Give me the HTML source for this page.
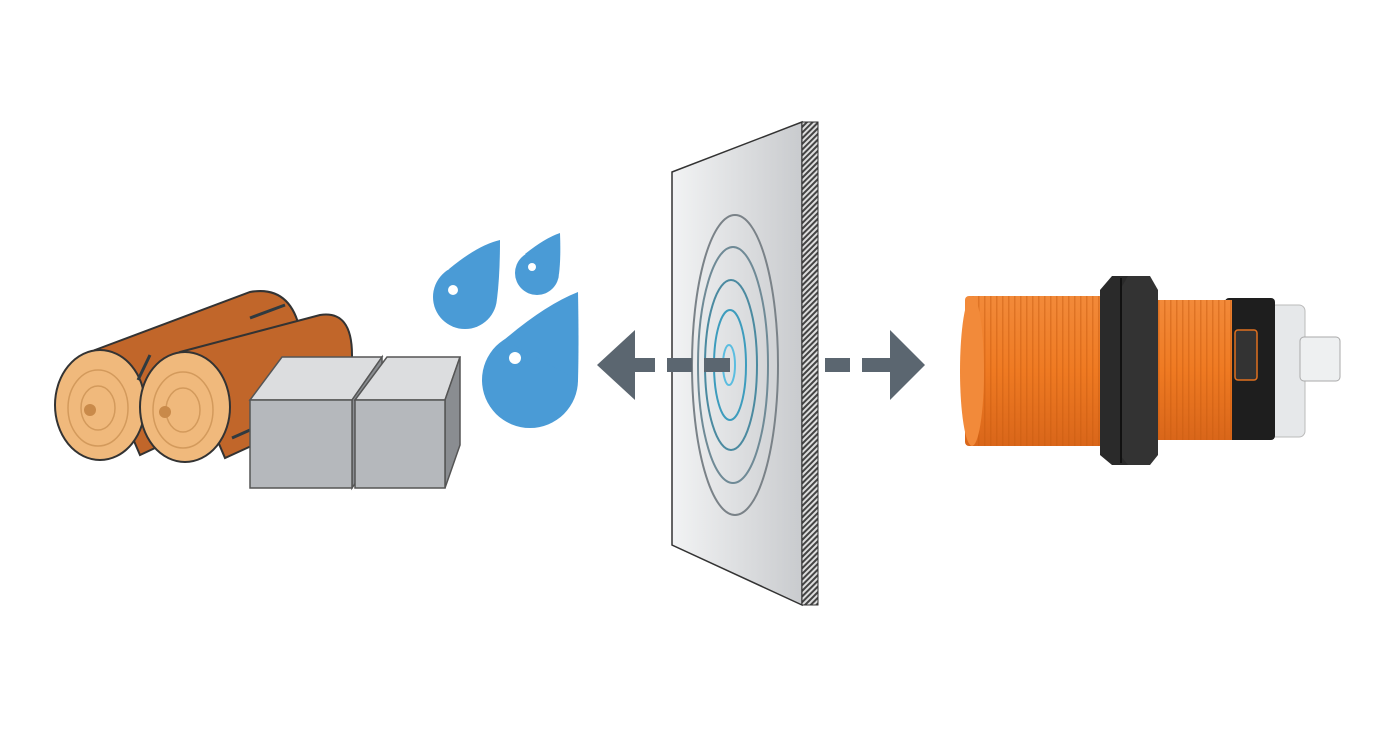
<!DOCTYPE html>
<html><head><meta charset="utf-8"><style>html,body{margin:0;padding:0;background:#fff}</style></head>
<body>
<svg width="1400" height="735" viewBox="0 0 1400 735" xmlns="http://www.w3.org/2000/svg">
<defs>
<linearGradient id="pg" x1="0" x2="1"><stop offset="0" stop-color="#f2f3f4"/><stop offset="1" stop-color="#c9cbce"/></linearGradient>
<pattern id="hatch" width="4" height="4" patternUnits="userSpaceOnUse" patternTransform="rotate(45)"><rect width="4" height="4" fill="#ddd"/><rect width="2" height="4" fill="#444"/></pattern>
<linearGradient id="og" x1="0" y1="0" x2="0" y2="1"><stop offset="0" stop-color="#f28a3a"/><stop offset="0.5" stop-color="#ef7a22"/><stop offset="1" stop-color="#d9661a"/></linearGradient>
<pattern id="thr" width="6" height="10" patternUnits="userSpaceOnUse"><rect width="6" height="10" fill="none"/><rect width="1.5" height="10" fill="#c95c10" opacity="0.45"/></pattern>
</defs>
<!-- logs -->
<g stroke="#333" stroke-width="2">
<path d="M95 350 L250 292 Q290 285 300 330 L300 380 L140 455 Z" fill="#c1662a"/>
<ellipse cx="100" cy="405" rx="45" ry="55" fill="#f0b97c"/>
<path d="M180 352 L320 315 Q352 310 352 355 L352 400 L225 458 Z" fill="#c1662a"/>
<ellipse cx="185" cy="407" rx="45" ry="55" fill="#f0b97c"/>
</g>
<g stroke="#2f3a40" stroke-width="3" fill="none">
<path d="M150 355 L138 380"/><path d="M250 318 L285 305"/><path d="M232 438 L250 430"/>
</g>
<g fill="none" stroke="#d39a5c" stroke-width="1.5">
<ellipse cx="98" cy="408" rx="30" ry="38"/><ellipse cx="98" cy="408" rx="17" ry="22"/>
<ellipse cx="183" cy="410" rx="30" ry="38"/><ellipse cx="183" cy="410" rx="17" ry="22"/>
</g>
<circle cx="90" cy="410" r="6" fill="#c98a4a"/><circle cx="165" cy="412" r="6" fill="#c98a4a"/>
<!-- boxes -->
<g stroke="#555" stroke-width="1.5">
<polygon points="250,400 282,357 382,357 352,400" fill="#dcdddf"/>
<polygon points="352,400 382,357 382,445 352,488" fill="#8a8d91"/>
<rect x="250" y="400" width="102" height="88" fill="#b5b8bc"/>
<polygon points="355,400 387,357 460,357 445,400" fill="#dcdddf"/>
<polygon points="445,400 460,357 460,445 445,488" fill="#8a8d91"/>
<rect x="355" y="400" width="90" height="88" fill="#b5b8bc"/>
</g>
<!-- drops -->
<g fill="#4a9bd6">
<circle cx="465" cy="297" r="32"/><path d="M449 269 Q478 245 500 240 Q500 275 497 299 Z"/>
<circle cx="537" cy="273" r="22"/><path d="M525 254 Q545 238 560 233 Q561 258 559 274 Z"/>
<circle cx="530" cy="380" r="48"/><path d="M504 340 Q545 305 578 292 Q579 345 578 380 Z"/>
</g>
<g fill="#fff"><circle cx="453" cy="290" r="5"/><circle cx="532" cy="267" r="4"/><circle cx="515" cy="358" r="6"/></g>
<!-- panel -->
<polygon points="672,172 802,122 802,605 672,545" fill="url(#pg)" stroke="#333" stroke-width="1.5"/>
<polygon points="802,122 818,122 818,605 802,605" fill="url(#hatch)" stroke="#333"/>
<g fill="none" stroke-width="2">
<ellipse cx="735" cy="365" rx="43" ry="150" stroke="#7a8288"/>
<ellipse cx="733" cy="365" rx="35" ry="118" stroke="#6f8a96"/>
<ellipse cx="731" cy="365" rx="26" ry="85" stroke="#4b8aa0"/>
<ellipse cx="730" cy="365" rx="16" ry="55" stroke="#3d9cbd"/>
<ellipse cx="729" cy="365" rx="6" ry="20" stroke="#5bbde0"/>
</g>
<!-- arrows -->
<g fill="#5b6670">
<polygon points="597,365 635,330 635,400"/>
<rect x="633" y="358" width="22" height="14"/>
<rect x="667" y="358" width="25" height="14"/>
<rect x="704" y="358" width="26" height="14"/>
<rect x="825" y="358" width="25" height="14"/>
<rect x="862" y="358" width="30" height="14"/>
<polygon points="925,365 890,330 890,400"/>
</g>
<!-- sensor -->
<rect x="1270" y="305" width="35" height="132" rx="6" fill="#e6e8ea" stroke="#bbb"/>
<rect x="1300" y="337" width="40" height="44" rx="4" fill="#eef0f1" stroke="#aaa"/>
<rect x="1225" y="298" width="50" height="142" rx="4" fill="#1e1e1e"/>
<rect x="1235" y="330" width="22" height="50" rx="3" fill="#333" stroke="#e0701f" stroke-width="1.5"/>
<rect x="1142" y="300" width="90" height="140" fill="url(#og)"/>
<rect x="1142" y="300" width="90" height="140" fill="url(#thr)"/>
<rect x="965" y="296" width="140" height="150" rx="4" fill="url(#og)"/>
<rect x="972" y="296" width="133" height="150" fill="url(#thr)"/>
<ellipse cx="972" cy="371" rx="12" ry="75" fill="#f28a3a"/>
<path d="M1100 290 L1112 276 L1135 276 L1140 290 L1140 455 L1135 465 L1112 465 L1100 455Z" fill="#2a2a2a"/>
<path d="M1120 290 L1128 276 L1150 276 L1158 290 L1158 455 L1150 465 L1128 465 L1120 455Z" fill="#333"/>
<line x1="1121" y1="278" x2="1121" y2="463" stroke="#111" stroke-width="2"/>
</svg>
</body></html>
